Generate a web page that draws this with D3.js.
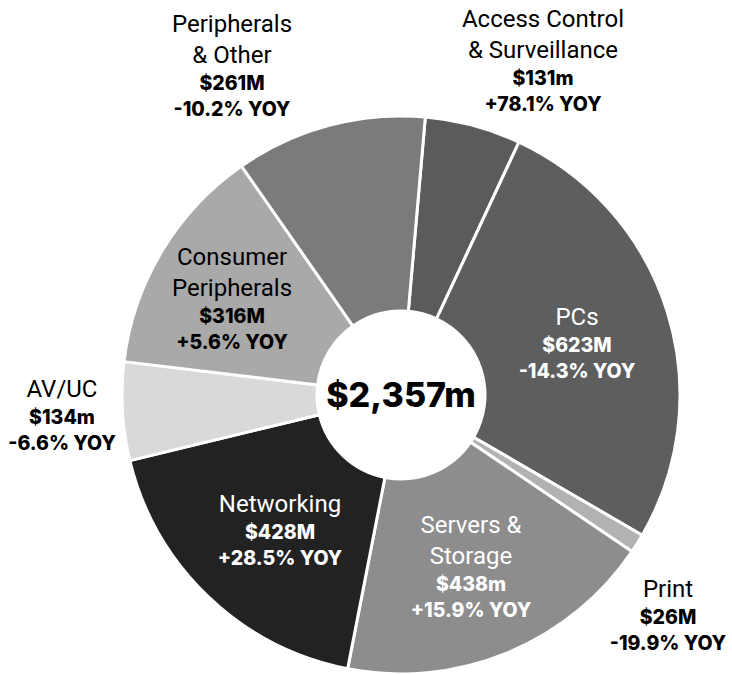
<html lang="en">
<head>
<style>
	body { margin: 0; background: #fff; }
	.name { font-family: Roboto, sans-serif; font-size: 24px; font-weight: 400; }
	.val { font-family: Inter, sans-serif; font-size: 19.5px; font-weight: 800; }
</style>
</head>
<body>
<svg width="732" height="674"></svg>
<script src="https://d3js.org/d3.v7.min.js"></script>
<script>
	// data, clockwise from the top
	var categories = ["Access Control|& Surveillance", "PCs", "Print", "Servers &|Storage", "Networking", "AV/UC", "Consumer|Peripherals", "Peripherals|& Other"];
	var revenue = [131, 623, 26, 438, 428, 134, 316, 261];
	var revenueLabels = ["$131m", "$623M", "$26M", "$438m", "$428M", "$134m", "$316M", "$261M"];
	var yoy = ["+78.1%", "-14.3%", "-19.9%", "+15.9%", "+28.5%", "-6.6%", "+5.6%", "-10.2%"];
	var totalLabel = "$2,357m";

	// look
	var colors = ["#5b5b5b", "#5e5e5e", "#b2b2b2", "#8d8d8d", "#222222", "#d9d9d9", "#a9a9a9", "#7b7b7b"];
	var textColors = ["#000", "#fff", "#000", "#fff", "#fff", "#000", "#000", "#000"];
	// first baseline of each label block
	var labelAt = [[543, 27], [577, 325], [668, 597], [471, 533], [280, 512], [62, 397], [232, 265], [232, 32]];

	var svg = d3.select("svg");
	var cx = 401, cy = 395;
	var outerR = 279, innerR = 84;
	var start = 5 * Math.PI / 180;

	var pie = d3.pie().sort(null).value(function(d) { return d; })
		.startAngle(start).endAngle(start + 2 * Math.PI);
	var arc = d3.arc().innerRadius(innerR).outerRadius(outerR);

	var g = svg.append("g").attr("transform", "translate(" + cx + "," + cy + ")");

	g.selectAll("path")
		.data(pie(revenue))
		.enter().append("path")
		.attr("d", arc)
		.attr("fill", function(d, i) { return colors[i]; })
		.attr("stroke", "#fff")
		.attr("stroke-width", 3)
		.attr("stroke-linejoin", "round");

	g.append("circle").attr("r", innerR).attr("fill", "#fff");

	g.append("text")
		.attr("text-anchor", "middle")
		.attr("y", 12)
		.style("font-family", "Inter, sans-serif")
		.style("font-weight", 800)
		.style("font-size", "34px")
		.attr("fill", "#000")
		.text(totalLabel);

	categories.forEach(function(c, i) {
		var lines = c.split("|");
		var t = svg.append("text")
			.attr("text-anchor", "middle")
			.attr("fill", textColors[i]);
		var y = labelAt[i][1];
		lines.forEach(function(l, k) {
			t.append("tspan").attr("class", "name")
				.attr("x", labelAt[i][0]).attr("y", y + k * 31).text(l);
		});
		y += (lines.length - 1) * 31 + 27;
		t.append("tspan").attr("class", "val")
			.attr("x", labelAt[i][0]).attr("y", y).text(revenueLabels[i]);
		t.append("tspan").attr("class", "val")
			.attr("x", labelAt[i][0]).attr("y", y + 26).text(yoy[i] + " YOY");
	});
</script>
</body>
</html>
